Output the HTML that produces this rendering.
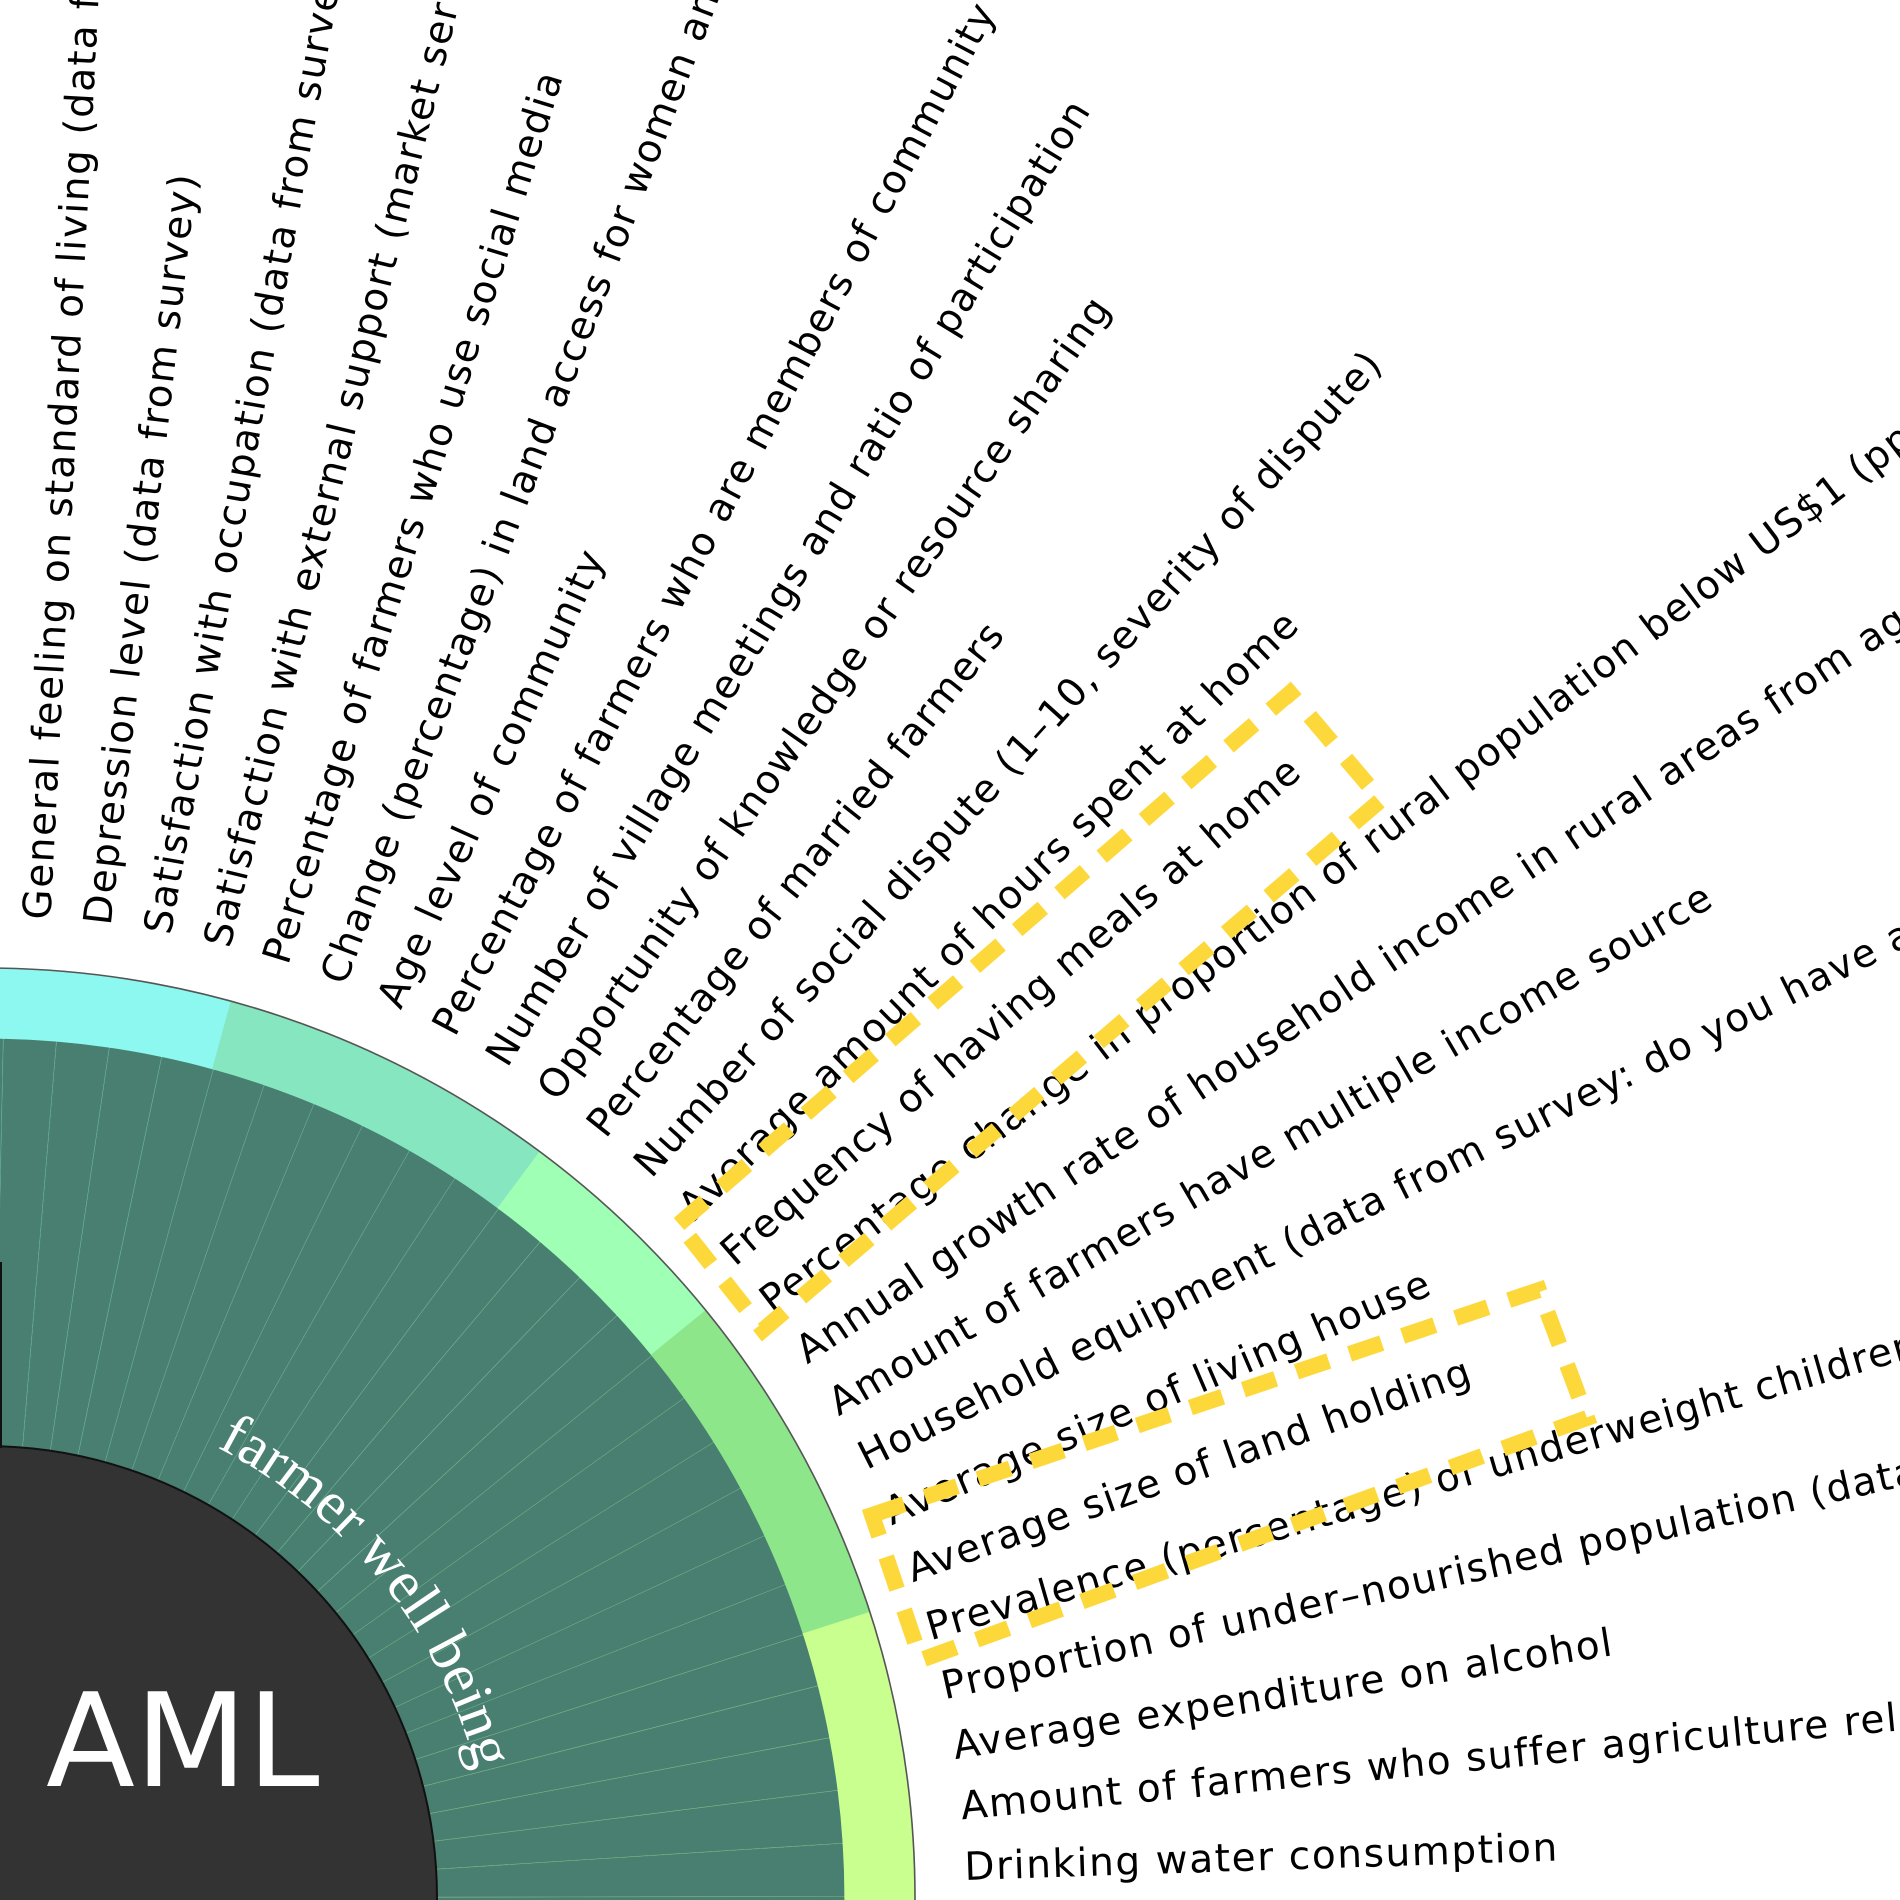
<!DOCTYPE html>
<html><head><meta charset="utf-8"><style>
html,body{margin:0;padding:0;background:#fff;width:1900px;height:1900px;overflow:hidden;}
svg{display:block;overflow:hidden;}
</style></head><body>
<svg id="chart" width="1900" height="1900" viewBox="0 0 1900 1900" xmlns="http://www.w3.org/2000/svg">
<g id="sectors"></g>
<g id="ring"></g>
<g id="labels"></g>
<circle cx="-15" cy="1898" r="452" fill="#333333" stroke="#111" stroke-width="2"/>
<text x="46" y="1786" fill="#fff" font-family="'DejaVu Sans','Liberation Sans',sans-serif" font-size="130">AML</text>
<defs><path id="arcPath" d="M -15 1898 m 231.8 -450.8 A 507 507 0 0 1 476 1770"/></defs>
<text fill="#fff" font-family="'Liberation Serif',serif" font-size="60"><textPath href="#arcPath">farmer well being</textPath></text>
<line x1="1" y1="1262" x2="1" y2="1448" stroke="#111" stroke-width="2"/>
<polygon points="679,1224 1290,693 1381,800 763,1330" fill="none" stroke="#fdd83b" stroke-width="16" stroke-dasharray="34,22"/>
<polygon points="872,1515 1539,1290 1587,1418 921,1660" fill="none" stroke="#fdd83b" stroke-width="16" stroke-dasharray="34,22"/>
</svg>
<script>
const labels = [
 "Sense of security in the community (data from survey)",
 "General feeling on standard of living (data from survey)",
 "Depression level (data from survey)",
 "Satisfaction with occupation (data from survey)",
 "Satisfaction with external support (market services)",
 "Percentage of farmers who use social media",
 "Change (percentage) in land access for women and youth",
 "Age level of community",
 "Percentage of farmers who are members of community organisations",
 "Number of village meetings and ratio of participation",
 "Opportunity of knowledge or resource sharing",
 "Percentage of married farmers",
 "Number of social dispute (1\u201310, severity of dispute)",
 "Average amount of hours spent at home",
 "Frequency of having meals at home",
 "Percentage change in proportion of rural population below US$1 (ppp) per day",
 "Annual growth rate of household income in rural areas from agriculture",
 "Amount of farmers have multiple income source",
 "Household equipment (data from survey: do you have a television)",
 "Average size of living house",
 "Average size of land holding",
 "Prevalence (percentage) of underweight children under five",
 "Proportion of under\u2013nourished population (data from FAO)",
 "Average expenditure on alcohol",
 "Amount of farmers who suffer agriculture related diseases",
 "Drinking water consumption",
 "Access to sanitation facilities"
];
const categories = [0,0,0,0,0,1,1,1,1,1,1,2,2,2,2,3,3,3,3,3,3,4,4,4,4,4,4];
const values = [1,1,1,1,1,1,1,1,1,1,1,1,1,1,1,1,1,1,1,1,1,1,1,1,1,1,1];
const categoryColors = ["#8cf8f0","#86e6c0","#9effb5","#8de68a","#c8ff8f"];

const NS="http://www.w3.org/2000/svg";
const CX=-15, CY=1898, R0=452, R1=860, R2=930, RL=980;
const A0=90.55, STEP=3.547;
function ang(i){return A0 - i*STEP;}
function pt(r,a){const t=a*Math.PI/180;return [CX+r*Math.cos(t), CY-r*Math.sin(t)];}
function rScale(v){return R0 + v*(R1-R0);}
function wedge(r0,r1,a0,a1){
 const p1=pt(r1,a0),p2=pt(r1,a1),p3=pt(r0,a1),p4=pt(r0,a0);
 return `M${p1[0]},${p1[1]} A${r1},${r1} 0 0 1 ${p2[0]},${p2[1]} L${p3[0]},${p3[1]} A${r0},${r0} 0 0 0 ${p4[0]},${p4[1]} Z`;
}
const gS=document.getElementById('sectors'), gR=document.getElementById('ring'), gL=document.getElementById('labels');
labels.forEach((lab,i)=>{
 const a=ang(i), aStart=a+STEP/2, aEnd=a-STEP/2;
 const s=document.createElementNS(NS,'path');
 s.setAttribute('d',wedge(R0,rScale(values[i]),aStart,aEnd));
 s.setAttribute('fill','#487f70');
 s.setAttribute('stroke',categoryColors[categories[i]]);
 s.setAttribute('stroke-opacity','0.2');
 s.setAttribute('stroke-width','0.8');
 
 
 gS.appendChild(s);
 const rr=document.createElementNS(NS,'path');
 rr.setAttribute('d',wedge(R1,R2,aStart+0.05,aEnd-0.05));
 rr.setAttribute('fill',categoryColors[categories[i]]);
 rr.setAttribute('stroke',categoryColors[categories[i]]);
 rr.setAttribute('stroke-width','1.2');
 
 
 gR.appendChild(rr);
 const p=pt(RL,a);
 const t=document.createElementNS(NS,'text');
 t.setAttribute('transform',`translate(${p[0]},${p[1]}) rotate(${-a})`);
 t.setAttribute('dy','0.36em');
 t.setAttribute('font-family',"'DejaVu Sans','Liberation Sans',sans-serif");
 t.setAttribute('font-size','39');
 t.setAttribute('letter-spacing','1.6');
 t.setAttribute('fill','#000');
 t.textContent=lab;
 
 
 gL.appendChild(t);
});
const outline=document.createElementNS(NS,'circle');
outline.setAttribute('cx',CX);outline.setAttribute('cy',CY);outline.setAttribute('r',R2);
outline.setAttribute('fill','none');outline.setAttribute('stroke','#555');outline.setAttribute('stroke-width','1.6');


gR.appendChild(outline);
</script>
</body></html>
